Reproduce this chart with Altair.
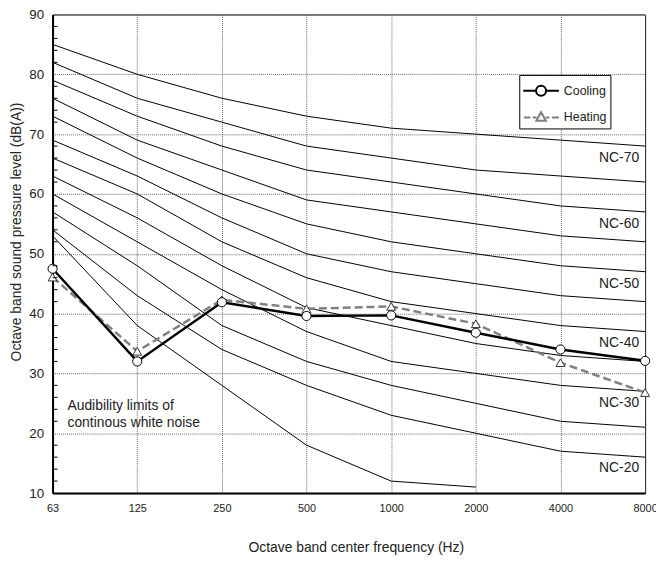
import altair as alt
import pandas as pd

freqs = ["63", "125", "250", "500", "1000", "2000", "4000", "8000"]

# NC curves, top to bottom
nc_names = ["NC-70", "NC-65", "NC-60", "NC-55", "NC-50", "NC-45",
            "NC-40", "NC-35", "NC-30", "NC-25", "NC-20", "NC-15"]
nc_values = [
    [85, 80, 76, 73, 71, 70, 69, 68],
    [82, 76, 72, 68, 66, 64, 63, 62],
    [79, 73, 68, 64, 62, 60, 58, 57],
    [76, 69, 64, 59, 57, 55, 53, 52],
    [73, 66, 60, 55, 52, 50, 48, 47],
    [69, 63, 56, 50, 47, 45, 43, 42],
    [66, 60, 52, 46, 42, 40, 38, 37],
    [63, 56, 48, 41, 38, 35, 33, 32],
    [60, 52, 44, 37, 32, 30, 28, 27],
    [57, 48, 38, 32, 28, 25, 22, 21],
    [54, 43, 34, 28, 23, 20, 17, 16],
    [53, 38, 28, 18, 12, 11],
]

cooling = [47.5, 32.0, 41.9, 39.6, 39.7, 36.8, 34.0, 32.1]
heating = [46.1, 33.7, 42.3, 40.8, 41.2, 38.3, 31.8, 26.8]

label_names = ["NC-70", "NC-60", "NC-50", "NC-40", "NC-30", "NC-20"]
label_values = [66, 55, 45, 35, 25, 14.2]

minor_ticks = [v for v in range(12, 90, 2) if v % 10 != 0]

FONT = "Liberation Sans"

nc_rows = []
for name, vals in zip(nc_names, nc_values):
    for i, (f, v) in enumerate(zip(freqs, vals)):
        nc_rows.append({"curve": name, "freq": f, "idx": i, "value": v})
nc_df = pd.DataFrame(nc_rows)

series_df = pd.DataFrame(
    [{"series": "Cooling", "freq": f, "idx": i, "value": v}
     for i, (f, v) in enumerate(zip(freqs, cooling))]
    + [{"series": "Heating", "freq": f, "idx": i, "value": v}
       for i, (f, v) in enumerate(zip(freqs, heating))]
)
lab_df = pd.DataFrame({"freq": ["8000"] * len(label_names), "value": label_values,
                       "label": label_names})
aud_df = pd.DataFrame({"freq": ["63"], "value": [24.5],
                       "label": ["Audibility limits of\ncontinous white noise"]})
tick_df = pd.DataFrame({"value": minor_ticks})

x_enc = alt.X("freq:O",
              scale=alt.Scale(type="point", padding=0, domain=freqs),
              axis=alt.Axis(title="Octave band center frequency (Hz)", labelAngle=0,
                            grid=True, ticks=False, labelPadding=10,
                            titlePadding=27, titleX=306))
y_enc = alt.Y("value:Q",
              scale=alt.Scale(domain=[10, 90], nice=False, zero=False),
              axis=alt.Axis(title="Octave band sound pressure level (dB(A))",
                            values=list(range(10, 91, 10)), grid=True, ticks=False,
                            labelPadding=9, titlePadding=5, titleY=219))

nc_lines = alt.Chart(nc_df).mark_line(color="black", strokeWidth=1).encode(
    x=x_enc, y=y_enc, detail="curve:N", order="idx:Q"
)

nc_labels = alt.Chart(lab_df).mark_text(
    align="right", baseline="middle", dx=-6, fontSize=14, font=FONT, color="#222"
).encode(x=x_enc, y=y_enc, text="label:N")

aud_text = alt.Chart(aud_df).mark_text(
    align="left", baseline="middle", dx=15, fontSize=14, font=FONT, color="#222",
    lineBreak="\n", lineHeight=17
).encode(x=x_enc, y=y_enc, text="label:N")

heat_line = alt.Chart(series_df).transform_filter(
    alt.datum.series == "Heating"
).mark_line(color="#808080", strokeWidth=2.5, strokeDash=[8, 4]).encode(
    x=x_enc, y=y_enc, order="idx:Q")

cool_line = alt.Chart(series_df).transform_filter(
    alt.datum.series == "Cooling"
).mark_line(color="black", strokeWidth=2.5).encode(x=x_enc, y=y_enc, order="idx:Q")

heat_pts = alt.Chart(series_df).transform_filter(
    alt.datum.series == "Heating"
).mark_point(shape="triangle-up", size=80, filled=True, fill="white",
             stroke="#333", strokeWidth=1, opacity=1).encode(x=x_enc, y=y_enc)

cool_pts = alt.Chart(series_df).transform_filter(
    alt.datum.series == "Cooling"
).mark_point(shape="circle", size=85, filled=True, fill="white",
             stroke="black", strokeWidth=1, opacity=1).encode(x=x_enc, y=y_enc)

path_c = ("M-1,0L0.08,0M0.92,0L2,0"
          "M0.08,0A0.42,0.42,0,1,1,0.92,0A0.42,0.42,0,1,1,0.08,0Z")
path_h = ("M-0.95,0L-0.4,0M-0.2,0L0.12,0M0.88,0L1.2,0M1.4,0L2,0"
          "M0.5,-0.45L0.9,0.28L0.1,0.28Z")

leg = alt.Legend(title=None, orient="none", legendX=471, legendY=61,
                 padding=3, fillColor="white", strokeColor="black",
                 symbolSize=576, symbolStrokeWidth=2,
                 symbolOpacity=1, symbolFillColor="white",
                 labelOffset=16, rowPadding=4,
                 labelFontSize=12.5, labelFont=FONT, labelColor="#222")

legend_layer = alt.Chart(series_df).mark_point(size=1, strokeOpacity=0.001, filled=False).encode(
    x=x_enc, y=y_enc,
    shape=alt.Shape("series:N", scale=alt.Scale(domain=["Cooling", "Heating"],
                                                range=[path_c, path_h]),
                    legend=leg),
    color=alt.Color("series:N", scale=alt.Scale(domain=["Cooling", "Heating"],
                                                range=["black", "#808080"]),
                    legend=leg),
)

ticks = alt.Chart(tick_df).mark_rule(color="black", strokeWidth=1).encode(
    x=alt.value(0), x2=alt.value(5),
    y=alt.Y("value:Q", scale=alt.Scale(domain=[10, 90], nice=False, zero=False))
)

chart = alt.layer(
    nc_lines, nc_labels, aud_text, heat_line, cool_line, heat_pts, cool_pts,
    legend_layer, ticks
).properties(
    width=598, height=483,
    autosize=alt.AutoSizeParams(type="none"),
    padding={"left": 45, "top": 4, "right": 11, "bottom": 63},
).configure_view(
    stroke="black", strokeWidth=1
).configure_axis(
    labelFont=FONT, titleFont=FONT, labelFontSize=13.5, titleFontSize=14,
    titleFontWeight="normal", labelColor="#222", titleColor="#222",
    domainColor="black", domainWidth=2,
    gridColor="#666", gridDash=[1, 1], gridWidth=1,
).configure_axisX(
    labelFontSize=11
)

chart.save("out.html", embed_options={"renderer": "svg", "actions": False})
